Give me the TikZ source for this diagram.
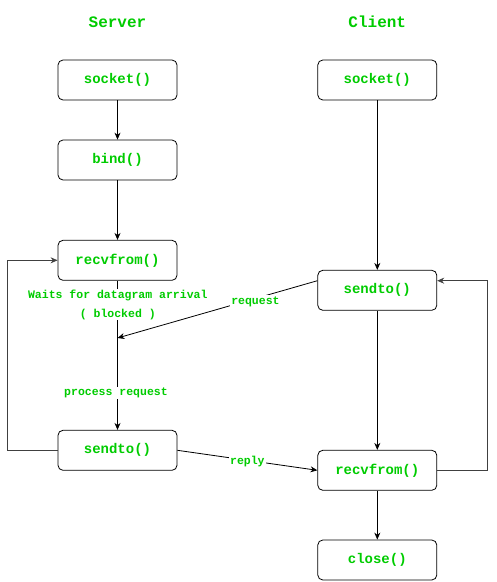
\documentclass[tikz,border=0pt]{standalone}
\usepackage{fontspec}
\setmonofont{Liberation Mono}
\usetikzlibrary{arrows.meta}
\definecolor{tgreen}{RGB}{0,204,0}
\tikzset{
  box/.style={draw=black, line width=0.8pt, rounded corners=5pt, minimum width=119pt, minimum height=40pt, inner sep=0pt,
    text=tgreen, font=\ttfamily\bfseries\fontsize{14}{16}\selectfont},
  title/.style={text=tgreen, font=\ttfamily\bfseries\fontsize{16}{18}\selectfont},
  lbl/.style={fill=white, text=tgreen, inner sep=1pt, font=\ttfamily\bfseries\fontsize{11.5}{19}\selectfont},
  conn/.style={line width=0.8pt, draw=black, -{Stealth[length=7pt,width=6pt]}},
  loop/.style={line width=0.8pt, draw=black!75, -{Stealth[length=7pt,width=6pt]}}
}
\begin{document}
\begin{tikzpicture}[x=1pt,y=-1pt]
\useasboundingbox (0,0) rectangle (497,582);
\node[title] (tserv) at (117.5,22) {Server};
\node[title] (tcli) at (377.3,22) {Client};
% server
\node[box] (ssock) at (117.5,80) {socket()};
\node[box] (sbind) at (117.5,160) {bind()};
\node[box] (srecv) at (117.5,260.3) {recvfrom()};
\node[box] (ssend) at (117.5,450.3) {sendto()};
% client
\node[box] (csock) at (377.3,80) {socket()};
\node[box] (csend) at (377.3,290.3) {sendto()};
\node[box] (crecv) at (377.3,470.3) {recvfrom()};
\node[box] (cclose) at (377.3,560) {close()};
% server flow
\draw[conn] (ssock) -- (sbind);
\draw[conn] (sbind) -- (srecv);
\draw[conn] (srecv) -- (ssend);
\node[lbl, align=center] (wait) at (117.8,304.5) {Waits for datagram arrival\\( blocked )};
\node[lbl] (proc) at (116,393) {process request};
\coordinate (reqin) at (117.5,338);
% client flow
\draw[conn] (csock) -- (csend);
\draw[conn] (csend) -- (crecv);
\draw[conn] (crecv) -- (cclose);
% messages
\draw[conn] ([yshift=9.6pt]csend.west) -- node[lbl, pos=0.31, yshift=-3pt] (req) {request} (reqin);
\draw[conn] (ssend.east) -- node[lbl, pos=0.5, yshift=-1.5pt] (rep) {reply} (crecv.west);
% loops
\draw[loop] (ssend.west) -- (7,450.3) |- (srecv.west);
\draw[loop] (crecv.east) -- (487,470.3) |- ([yshift=9.6pt]csend.east);
\end{tikzpicture}
\end{document}
